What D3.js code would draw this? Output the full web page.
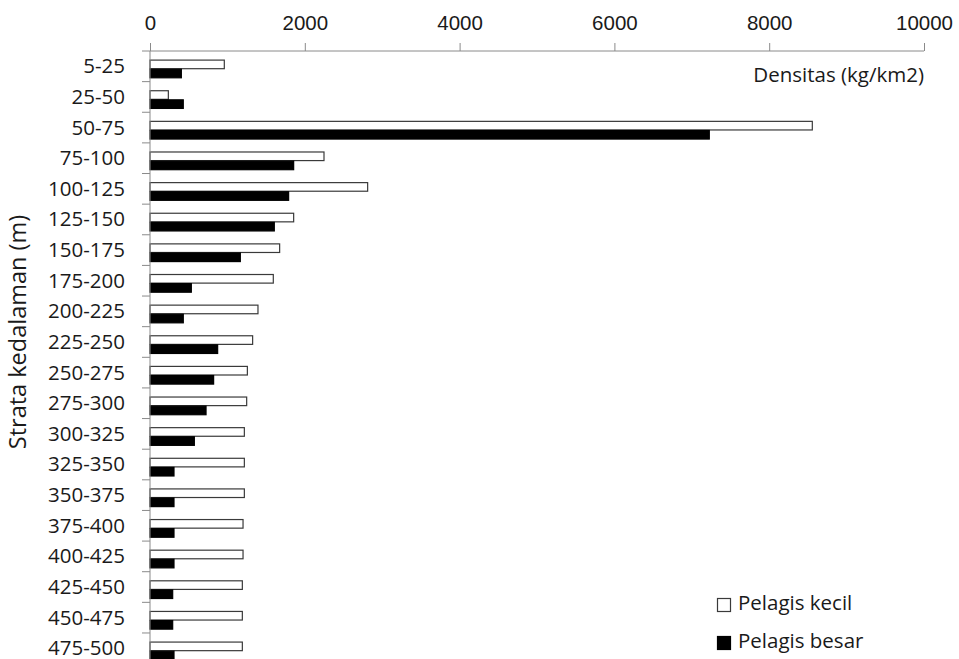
<!DOCTYPE html>
<html>
<head>
<meta charset="utf-8">
<script src="https://cdn.jsdelivr.net/npm/d3@7"></script>
<style>
  html, body { margin: 0; padding: 0; background: #fff; }
  svg { display: block; font-family: "Open Sans", "Noto Sans", sans-serif; }
</style>
</head>
<body>
<svg id="chart" width="959" height="659"></svg>
<script>
const categories = ["5-25","25-50","50-75","75-100","100-125","125-150","150-175","175-200","200-225","225-250","250-275","275-300","300-325","325-350","350-375","375-400","400-425","425-450","450-475","475-500"];
const pelagisKecil = [960, 237, 8557, 2248, 2812, 1856, 1675, 1593, 1395, 1326, 1258, 1249, 1219, 1219, 1219, 1202, 1202, 1193, 1193, 1193];
const pelagisBesar = [405, 430, 7226, 1856, 1791, 1606, 1167, 534, 430, 874, 822, 724, 573, 310, 310, 310, 310, 293, 293, 310];
const seriesNames = ["Pelagis kecil", "Pelagis besar"];
const xTicks = [0, 2000, 4000, 6000, 8000, 10000];
const xTitle = "Densitas (kg/km2)";
const yTitle = "Strata kedalaman (m)";

const svg = d3.select("#chart");
const axisColor = "#8a8a8a";
const textColor = "#1a1a1a";
const fills = ["#ffffff", "#000000"];
const strokes = ["#3a3a3a", "#000000"];

const x = d3.scaleLinear().domain([0, 10000]).range([150, 924]);
const bandH = 30.63;
const y = d3.scaleBand().domain(categories).range([51, 51 + bandH * categories.length]).padding(0);
const ySub = d3.scaleBand().domain(seriesNames).range([8.6, 26.8]).padding(0);

const data = categories.map((c, i) => ({ cat: c, values: [pelagisKecil[i], pelagisBesar[i]] }));

// bars
const groups = svg.append("g").selectAll("g").data(data).join("g")
  .attr("transform", d => `translate(0,${y(d.cat)})`);
groups.selectAll("rect").data(d => d.values.map((v, k) => ({ v, k, name: seriesNames[k] })))
  .join("rect")
  .attr("x", x(0))
  .attr("y", d => ySub(d.name) + 0.5)
  .attr("width", d => Math.max(0, x(d.v) - x(0)))
  .attr("height", ySub.bandwidth() - 0.5)
  .attr("fill", d => fills[d.k])
  .attr("stroke", d => strokes[d.k])
  .attr("stroke-width", 1.2);

// top x axis
const xAxis = svg.append("g").attr("transform", `translate(0,${y.range()[0]})`)
  .call(d3.axisTop(x).tickValues(xTicks).tickSize(8).tickPadding(13).tickFormat(d3.format("d")));
xAxis.select(".domain").attr("stroke", axisColor).attr("d", `M${x(0)},0H${x(10000)}`);
xAxis.selectAll(".tick line").attr("stroke", axisColor);
xAxis.selectAll(".tick text").attr("fill", textColor).attr("font-size", 20.5);

// left y axis with ticks at band boundaries
const yAxisG = svg.append("g").attr("transform", `translate(${x(0)},0)`);
yAxisG.append("line").attr("x1", 0).attr("x2", 0).attr("y1", y.range()[0]).attr("y2", y.range()[1])
  .attr("stroke", axisColor);
const boundaries = categories.map(c => y(c)).concat([y.range()[1]]);
yAxisG.selectAll("line.tk").data(boundaries).join("line").attr("class", "tk")
  .attr("x1", -8).attr("x2", 0).attr("y1", d => d).attr("y2", d => d).attr("stroke", axisColor);
yAxisG.selectAll("text").data(categories).join("text")
  .attr("x", -25).attr("y", d => y(d) + y.bandwidth() / 2 + 1.5)
  .attr("text-anchor", "end").attr("dominant-baseline", "middle")
  .attr("fill", textColor).attr("font-size", 20.5)
  .text(d => d);

// axis titles
svg.append("text").attr("x", x(10000)).attr("y", 77)
  .attr("text-anchor", "end").attr("dominant-baseline", "middle")
  .attr("fill", textColor).attr("font-size", 20.5).text(xTitle);
svg.append("text").attr("transform", `translate(20,${332}) rotate(-90)`)
  .attr("text-anchor", "middle").attr("dominant-baseline", "middle")
  .attr("fill", textColor).attr("font-size", 23.5).text(yTitle);

// legend
const legend = svg.append("g").attr("transform", "translate(717,598)");
seriesNames.forEach((name, k) => {
  const g = legend.append("g").attr("transform", `translate(0,${k * 38})`);
  g.append("rect").attr("x", 0.5).attr("y", 0.5).attr("width", 13).attr("height", 13)
    .attr("fill", fills[k]).attr("stroke", strokes[k]).attr("stroke-width", 1.2);
  g.append("text").attr("x", 21).attr("y", 7).attr("dominant-baseline", "middle")
    .attr("fill", textColor).attr("font-size", 20.5).text(name);
});
</script>
</body>
</html>
